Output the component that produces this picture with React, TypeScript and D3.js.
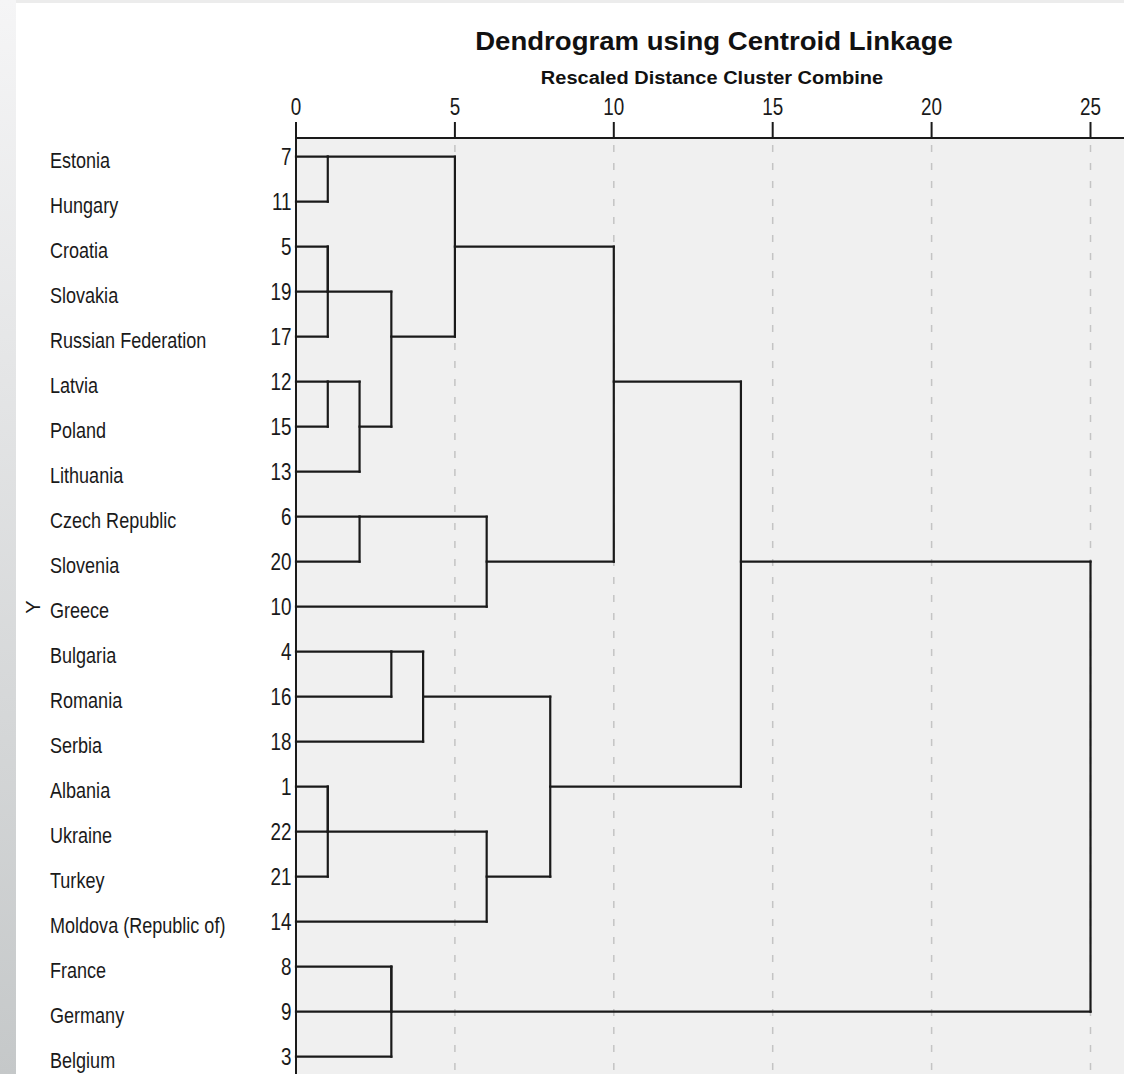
import React from "react";
import * as d3 from "d3";

// ---------- data ----------
const countries = [
  "Estonia", "Hungary", "Croatia", "Slovakia", "Russian Federation", "Latvia", "Poland",
  "Lithuania", "Czech Republic", "Slovenia", "Greece", "Bulgaria", "Romania", "Serbia",
  "Albania", "Ukraine", "Turkey", "Moldova (Republic of)", "France", "Germany", "Belgium",
];
const caseNumbers = [7, 11, 5, 19, 17, 12, 15, 13, 6, 20, 10, 4, 16, 18, 1, 22, 21, 14, 8, 9, 3];

// agglomeration schedule: "cN" = case N, "sK" = cluster formed at stage K
const stageLeft = ["c7", "c5", "s1", "c12", "c1", "s4", "s3", "c6", "s2", "c4", "c8", "s10", "s9", "s0", "s7", "s5", "s12", "s13", "s17", "s18"];
const stageRight = ["c11", "c19", "c17", "c15", "c22", "c21", "c13", "c20", "s6", "c16", "c9", "c3", "c18", "s8", "c10", "c14", "s15", "s14", "s16", "s11"];
const stageDistance = [1, 1, 1, 1, 1, 1, 2, 2, 3, 3, 3, 3, 4, 5, 6, 6, 8, 10, 14, 25];

const axisTicks = [0, 5, 10, 15, 20, 25];

const titleText = "Dendrogram using Centroid Linkage";
const subtitleText = "Rescaled Distance Cluster Combine";
const yAxisLabel = "Y";

// ---------- layout ----------
const W = 1124;
const H = 1074;
const FONT = "'Liberation Sans', Arial, Helvetica, sans-serif";
const LINE = "#1a1a1a";

export default function App() {
  const x = d3.scaleLinear().domain([0, 25]).range([296, 1090.5]);
  const y = d3.scaleLinear().domain([0, countries.length - 1]).range([156.7, 1056.7]);

  // build line segments from the schedule
  const nodes: Record<string, { row: number; start: number }> = {};
  caseNumbers.forEach((c, i) => (nodes["c" + c] = { row: i, start: 0 }));
  const hSegs: { row: number; d0: number; d1: number }[] = [];
  const vSegs: { d: number; r0: number; r1: number }[] = [];
  stageDistance.forEach((dist, k) => {
    const a = nodes[stageLeft[k]];
    const b = nodes[stageRight[k]];
    hSegs.push({ row: a.row, d0: a.start, d1: dist });
    hSegs.push({ row: b.row, d0: b.start, d1: dist });
    const r0 = Math.min(a.row, b.row);
    const r1 = Math.max(a.row, b.row);
    vSegs.push({ d: dist, r0, r1 });
    nodes["s" + k] = { row: Math.floor((r0 + r1) / 2), start: dist };
  });

  const axisY = 138;
  const plotTop = axisY;

  return (
    <div style={{ position: "absolute", left: 0, top: 0, width: W, height: H }}>
      <svg width={W} height={H} style={{ display: "block" }}>
        <defs>
          <linearGradient id="leftStrip" x1="0" y1="0" x2="0" y2="1">
            <stop offset="0" stopColor="#f5f5f6" />
            <stop offset="1" stopColor="#c5c8c9" />
          </linearGradient>
        </defs>
        <rect x={0} y={0} width={W} height={H} fill="#ffffff" />
        <rect x={0} y={0} width={W} height={3} fill="#ececec" />
        <rect x={0} y={0} width={16} height={H} fill="url(#leftStrip)" />

        {/* plot background */}
        <rect x={x(0)} y={plotTop} width={W - x(0)} height={H - plotTop} fill="#f0f0f0" />

        {/* grid lines */}
        {axisTicks.filter((t) => t > 0).map((t) => (
          <line key={"g" + t} x1={x(t)} x2={x(t)} y1={plotTop + 7} y2={H}
            stroke="#c4c4c4" strokeWidth={1.5} strokeDasharray="7,11" />
        ))}

        {/* axes */}
        <line x1={x(0)} x2={W} y1={axisY} y2={axisY} stroke={LINE} strokeWidth={2} />
        <line x1={x(0)} x2={x(0)} y1={122} y2={H} stroke={LINE} strokeWidth={2} />
        {axisTicks.map((t) => (
          <g key={"t" + t}>
            <line x1={x(t)} x2={x(t)} y1={122} y2={axisY} stroke={LINE} strokeWidth={2} />
            <text transform={`translate(${x(t)},115) scale(0.82,1)`} textAnchor="middle"
              fontFamily={FONT} fontSize={23} fill="#1a1a1a">{t}</text>
          </g>
        ))}

        {/* dendrogram */}
        {hSegs.filter((s) => s.d1 > s.d0).map((s, i) => (
          <line key={"h" + i} x1={x(s.d0)} x2={x(s.d1)} y1={y(s.row)} y2={y(s.row)}
            stroke={LINE} strokeWidth={2.2} strokeLinecap="square" />
        ))}
        {vSegs.map((s, i) => (
          <line key={"v" + i} x1={x(s.d)} x2={x(s.d)} y1={y(s.r0)} y2={y(s.r1)}
            stroke={LINE} strokeWidth={2.2} strokeLinecap="square" />
        ))}

        {/* row labels */}
        {countries.map((c, i) => (
          <g key={"r" + i}>
            <text transform={`translate(50,${y(i) + 11.6}) scale(0.82,1)`}
              fontFamily={FONT} fontSize={22} fill="#1a1a1a">{c}</text>
            <text transform={`translate(291.5,${y(i) + 8.5}) scale(0.82,1)`} textAnchor="end"
              fontFamily={FONT} fontSize={23} fill="#1a1a1a">{caseNumbers[i]}</text>
          </g>
        ))}

        {/* titles */}
        <text transform={`translate(714,50) scale(1.06,1)`} textAnchor="middle"
          fontFamily={FONT} fontSize={26} fontWeight="bold" fill="#111">{titleText}</text>
        <text transform={`translate(712,83.5) scale(1.07,1)`} textAnchor="middle"
          fontFamily={FONT} fontSize={18.7} fontWeight="bold" fill="#111">{subtitleText}</text>

        <text transform={`translate(40,607) rotate(-90)`} textAnchor="middle"
          fontFamily={FONT} fontSize={20} fill="#1a1a1a">{yAxisLabel}</text>
      </svg>
    </div>
  );
}
